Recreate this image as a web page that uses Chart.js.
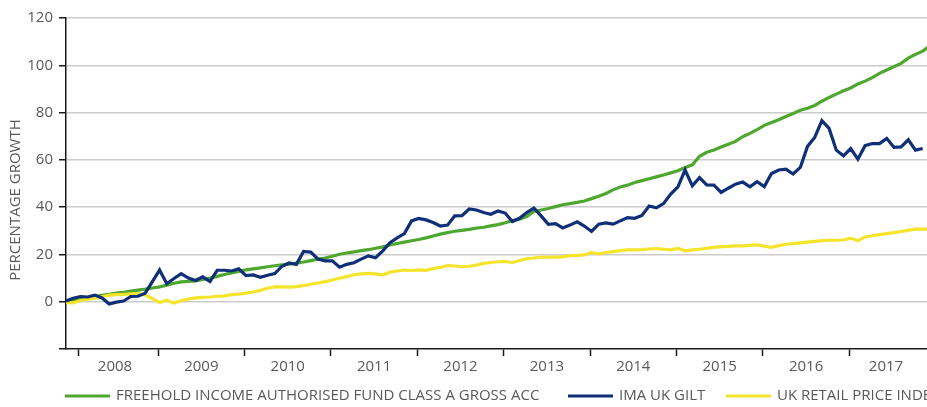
<!DOCTYPE html>
<html>
<head>
<meta charset="utf-8">
<script src="https://cdn.jsdelivr.net/npm/chart.js@4.4.0/dist/chart.umd.min.js"></script>
<style>
html, body { margin: 0; padding: 0; overflow: hidden; background: #fff; }
#wrap { position: relative; width: 927px; height: 407px; }
</style>
</head>
<body>
<div id="wrap"><canvas id="growth"></canvas></div>
<script>
// monthly points, Dec 2007 onwards (index 0 = Dec 2007)
const years = ['2008', '2009', '2010', '2011', '2012', '2013', '2014', '2015', '2016', '2017'];
const yTicks = [-20, 0, 20, 40, 60, 80, 100, 120];

const freehold = [
  0, 0.6, 1.2, 1.7, 2.2, 2.7, 3.1, 3.6, 4.0, 4.5, 4.9, 5.3,
  5.8, 6.3, 7.0, 7.8, 8.4, 8.6, 8.8, 9.4, 10.0, 10.7, 11.5, 12.2,
  12.8, 13.5, 13.9, 14.3, 14.8, 15.2, 15.6, 15.9, 16.3, 16.8, 17.4, 18.0,
  18.5, 19.2, 20.1, 20.6, 21.1, 21.6, 22.0, 22.6, 23.2, 24.0, 24.6, 25.2,
  25.8, 26.3, 27.0, 27.8, 28.6, 29.2, 29.8, 30.2, 30.6, 31.1, 31.5, 32.1,
  32.6, 33.4, 34.3, 34.9, 36.0, 38.2, 38.8, 39.4, 40.2, 41.0, 41.5, 42.0,
  42.6, 43.6, 44.6, 45.8, 47.3, 48.5, 49.3, 50.4, 51.2, 52.0, 52.8, 53.6,
  54.5, 55.4, 56.8, 57.9, 61.5, 63.2, 64.2, 65.4, 66.6, 67.8, 69.8, 71.2,
  72.8, 74.6, 75.8, 77.0, 78.3, 79.6, 81.0, 81.8, 83.0, 84.8, 86.4, 87.8,
  89.2, 90.4, 92.1, 93.3, 94.8, 96.6, 98.0, 99.4, 100.8, 103.0, 104.6, 106.0,
  108.2
];

const imaGilt = [
  0.3, 1.5, 2.2, 2.0, 2.8, 1.6, -1.0, -0.2, 0.3, 2.2, 2.3, 3.6,
  8.5, 13.4, 7.6, 9.8, 11.9, 10.0, 9.0, 10.5, 8.5, 13.3, 13.3, 13.0,
  13.9, 11.0, 11.3, 10.3, 11.2, 11.9, 15.0, 16.4, 15.8, 21.3, 21.0, 18.0,
  17.3, 17.3, 14.6, 15.8, 16.5, 18.0, 19.4, 18.6, 21.5, 25.0, 27.0, 28.8,
  34.2, 35.2, 34.6, 33.5, 32.0, 32.4, 36.3, 36.4, 39.2, 38.8, 37.7, 37.0,
  38.4, 37.5, 33.9, 35.3, 37.7, 39.6, 36.3, 32.7, 33.0, 31.2, 32.4, 33.8,
  32.0, 29.7, 32.8, 33.3, 32.8, 34.2, 35.6, 35.3, 36.5, 40.5, 39.7, 41.5,
  45.5, 48.6, 55.7, 49.0, 52.5, 49.4, 49.3, 46.2, 48.0, 49.7, 50.6, 48.6,
  50.8, 48.7, 54.2, 55.7, 56.1, 54.0, 56.8, 65.7, 69.5, 76.6, 73.3, 64.1,
  61.7, 64.8, 60.3, 66.0, 66.9, 66.9, 69.1, 65.3, 65.5, 68.5, 64.1, 64.8
];

const rpi = [
  -0.4, -0.5, 0.5, 1.0, 1.5, 2.1, 2.8, 3.0, 3.1, 3.3, 3.4, 2.9,
  1.3, -0.3, 0.6, -0.6, 0.4, 1.1, 1.6, 1.8, 2.0, 2.3, 2.5, 3.0,
  3.2, 3.6, 4.1, 4.8, 5.7, 6.3, 6.3, 6.2, 6.4, 6.8, 7.4, 7.9,
  8.5, 9.2, 9.9, 10.6, 11.4, 11.8, 12.0, 11.8, 11.3, 12.5, 13.0, 13.4,
  13.2, 13.5, 13.3, 14.0, 14.5, 15.3, 15.1, 14.8, 15.0, 15.5, 16.2, 16.6,
  16.9, 17.0, 16.6, 17.4, 18.2, 18.5, 18.9, 18.8, 18.9, 19.0, 19.5, 19.6,
  19.8, 20.8, 20.2, 20.8, 21.2, 21.6, 21.9, 21.9, 22.0, 22.3, 22.5, 22.2,
  21.9, 22.5, 21.5, 21.9, 22.2, 22.6, 23.0, 23.3, 23.4, 23.6, 23.6, 23.8,
  24.0, 23.5, 23.0, 23.7, 24.3, 24.6, 24.9, 25.2, 25.5, 25.8, 26.0, 26.0,
  26.1, 26.9, 25.8, 27.4, 27.9, 28.4, 28.8, 29.2, 29.7, 30.2, 30.7, 30.7,
  30.7
];

// year boundary tick marks and year label positions (in month index units)
const yearTicks = [1.8, 12.8, 24.8, 36.8, 48.8, 60.8, 72.8, 84.8, 96.8, 108.8];
const yearLabelPos = [6.8, 18.8, 30.8, 42.8, 54.8, 66.8, 78.8, 90.8, 102.8, 113.9];

const GREEN = '#4ea72e';
const BLUE = '#0f2f78';
const YELLOW = '#f4e42c';
const TEXT = '#58595b';
const FONT = '"Open Sans", "DejaVu Sans", sans-serif';
const X_MAX = 119.6;
const LEGEND_Y = 396;
const LEGEND_X = [65, 568, 726]; // left end of each legend line sample

const toPoints = arr => arr.map((v, i) => ({ x: i, y: v }));

// y-axis title, centred on the canvas height like the original
const axisTitle = {
  id: 'axisTitle',
  afterDraw(chart) {
    const ctx = chart.ctx;
    ctx.save();
    ctx.translate(15.5, 200);
    ctx.rotate(-Math.PI / 2);
    ctx.font = '15px ' + FONT;
    ctx.fillStyle = TEXT;
    ctx.textAlign = 'center';
    ctx.textBaseline = 'middle';
    ctx.fillText('PERCENTAGE GROWTH', 0, 0);
    ctx.restore();
  }
};

// one-row legend under the axis; it runs off the right edge like the original
const lineLegend = {
  id: 'lineLegend',
  afterDraw(chart) {
    const ctx = chart.ctx;
    ctx.save();
    ctx.font = '15px ' + FONT;
    ctx.textBaseline = 'middle';
    chart.data.datasets.forEach((ds, i) => {
      const x = LEGEND_X[i];
      ctx.fillStyle = ds.borderColor;
      ctx.fillRect(x, LEGEND_Y - 1.5, 45, 3);
      ctx.fillStyle = TEXT;
      ctx.fillText(ds.label, x + 51, LEGEND_Y);
    });
    ctx.restore();
  }
};

const createGrowthChart = () => {
  const ctx = document.getElementById('growth').getContext('2d');
  new Chart(ctx, {
    type: 'line',
    data: {
      datasets: [
        {
          label: 'FREEHOLD INCOME AUTHORISED FUND CLASS A GROSS ACC',
          data: toPoints(freehold),
          borderColor: GREEN,
          borderWidth: 3.2,
          order: 2
        },
        {
          label: 'IMA UK GILT',
          data: toPoints(imaGilt),
          borderColor: BLUE,
          borderWidth: 3.2,
          order: 0
        },
        {
          label: 'UK RETAIL PRICE INDEX',
          data: toPoints(rpi),
          borderColor: YELLOW,
          borderWidth: 3.2,
          order: 1
        }
      ]
    },
    options: {
      responsive: true,
      maintainAspectRatio: false,
      animation: false,
      elements: { point: { radius: 0 }, line: { tension: 0, fill: false } },
      layout: { padding: { top: 18, left: 0, right: 0, bottom: 29 } },
      plugins: {
        tooltip: { enabled: false },
        legend: { display: false }
      },
      scales: {
        x: {
          type: 'linear',
          min: 0,
          max: X_MAX,
          afterBuildTicks: scale => { scale.ticks = yearTicks.map(v => ({ value: v })); },
          ticks: { display: false },
          grid: { drawOnChartArea: false, drawTicks: true, tickLength: 7, tickColor: '#1a1a1a', tickWidth: 1.5 },
          border: { display: true, color: '#1a1a1a', width: 1.5 }
        },
        xLabels: {
          type: 'linear',
          position: 'bottom',
          min: 0,
          max: X_MAX,
          afterBuildTicks: scale => { scale.ticks = yearLabelPos.map(v => ({ value: v })); },
          ticks: {
            font: { family: FONT, size: 15 },
            color: TEXT,
            padding: 2,
            maxRotation: 0,
            autoSkip: false,
            callback: (value, index) => years[index]
          },
          grid: { display: false, drawTicks: false },
          border: { display: false }
        },
        y: {
          min: -20,
          max: 120,
          afterBuildTicks: scale => { scale.ticks = yTicks.map(v => ({ value: v })); },
          afterFit: scale => { scale.width = 66; },
          ticks: {
            font: { family: FONT, size: 15 },
            color: TEXT,
            padding: 6,
            callback: value => (value === -20 ? '' : value)
          },
          grid: {
            color: ctx => (ctx.tick && ctx.tick.value === -20 ? 'rgba(0,0,0,0)' : '#cccccc'),
            lineWidth: 1.5,
            tickLength: 7,
            tickColor: '#1a1a1a',
            tickWidth: 1.5
          },
          border: { display: true, color: '#1a1a1a', width: 1.5 }
        }
      }
    },
    plugins: [axisTitle, lineLegend]
  });
};

document.addEventListener('DOMContentLoaded', () => {
  createGrowthChart();
});
</script>
</body>
</html>
